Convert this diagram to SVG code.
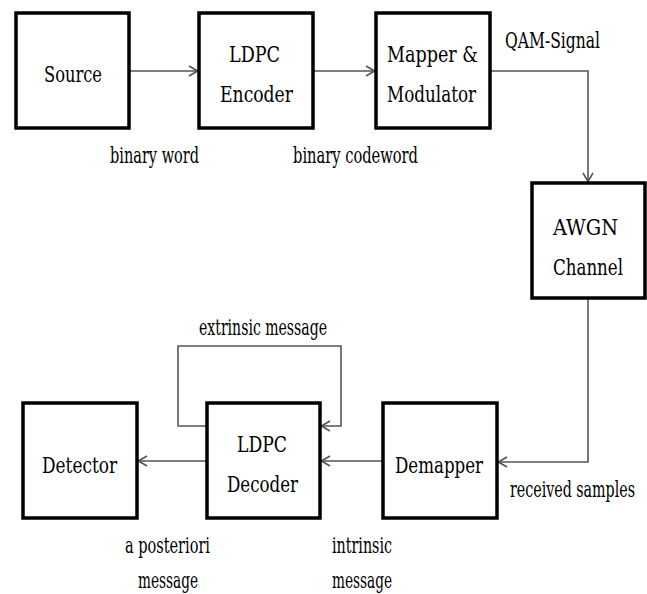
<svg xmlns="http://www.w3.org/2000/svg" width="647" height="594" viewBox="0 0 647 594">
<style>
.box{fill:#fff;stroke:#000;stroke-width:3.5}
.t{font-family:'DejaVu Serif Condensed','DejaVu Serif','Liberation Serif',serif;font-size:23px;fill:#000}
.c{fill:none;stroke:#555;stroke-width:1.6}
</style>
<defs>
<marker id="ah" viewBox="0 0 10 12" refX="10" refY="6" markerWidth="10" markerHeight="12" markerUnits="userSpaceOnUse" orient="auto">
<path d="M1,1 L9.5,6 L1,11" fill="none" stroke="#555" stroke-width="1.6"/>
</marker>
</defs>
<rect width="647" height="594" fill="#fff"/>
<g id="connectors">
<path class="c" d="M129,71 H198" marker-end="url(#ah)"/>
<path class="c" d="M313,71 H375" marker-end="url(#ah)"/>
<path class="c" d="M490,71 H588 V182" marker-end="url(#ah)"/>
<path class="c" d="M588,298 V462 H498" marker-end="url(#ah)"/>
<path class="c" d="M383,461 H321" marker-end="url(#ah)"/>
<path class="c" d="M207,461 H138" marker-end="url(#ah)"/>
<path class="c" d="M207,426 H178 V346 H341 V426 H321" marker-end="url(#ah)"/>
<text class="t" x="110" y="163" textLength="89" lengthAdjust="spacingAndGlyphs">binary word</text>
<text class="t" x="293" y="163" textLength="125" lengthAdjust="spacingAndGlyphs">binary codeword</text>
<text class="t" x="505" y="48" textLength="95" lengthAdjust="spacingAndGlyphs">QAM-Signal</text>
<text class="t" transform="translate(510,497) scale(0.7,1)" x="0" y="0" textLength="178.6" lengthAdjust="spacingAndGlyphs">received samples</text>
<text class="t" x="199" y="335" textLength="128" lengthAdjust="spacingAndGlyphs">extrinsic message</text>
<text class="t" x="125" y="553" textLength="85" lengthAdjust="spacingAndGlyphs">a posteriori</text>
<text class="t" x="138" y="588" textLength="60" lengthAdjust="spacingAndGlyphs">message</text>
<text class="t" x="332" y="553" textLength="60" lengthAdjust="spacingAndGlyphs">intrinsic</text>
<text class="t" x="332" y="588" textLength="60" lengthAdjust="spacingAndGlyphs">message</text>
</g>
<g id="source">
<rect class="box" x="16" y="13" width="113" height="115"/>
<text class="t" x="44" y="82" textLength="58" lengthAdjust="spacingAndGlyphs">Source</text>
</g>
<g id="encoder">
<rect class="box" x="199" y="13" width="114" height="115"/>
<text class="t" x="229" y="62" textLength="51" lengthAdjust="spacingAndGlyphs">LDPC</text>
<text class="t" x="220" y="102" textLength="73" lengthAdjust="spacingAndGlyphs">Encoder</text>
</g>
<g id="mapper">
<rect class="box" x="376" y="13" width="114" height="115"/>
<text class="t" x="387" y="62" textLength="91" lengthAdjust="spacingAndGlyphs">Mapper &amp;</text>
<text class="t" x="387" y="102" textLength="89" lengthAdjust="spacingAndGlyphs">Modulator</text>
</g>
<g id="awgn">
<rect class="box" x="532" y="183" width="113" height="115"/>
<text class="t" x="553" y="235" textLength="65" lengthAdjust="spacingAndGlyphs">AWGN</text>
<text class="t" transform="translate(553,275) scale(0.8,1)" x="0" y="0" textLength="87.5" lengthAdjust="spacingAndGlyphs">Channel</text>
</g>
<g id="demapper">
<rect class="box" x="383" y="403" width="114" height="115"/>
<text class="t" x="395" y="473" textLength="88" lengthAdjust="spacingAndGlyphs">Demapper</text>
</g>
<g id="decoder">
<rect class="box" x="207" y="403" width="113" height="115"/>
<text class="t" x="237" y="452" textLength="50" lengthAdjust="spacingAndGlyphs">LDPC</text>
<text class="t" x="227" y="492" textLength="71" lengthAdjust="spacingAndGlyphs">Decoder</text>
</g>
<g id="detector">
<rect class="box" x="23" y="403" width="114" height="115"/>
<text class="t" x="42" y="473" textLength="75" lengthAdjust="spacingAndGlyphs">Detector</text>
</g>
</svg>
